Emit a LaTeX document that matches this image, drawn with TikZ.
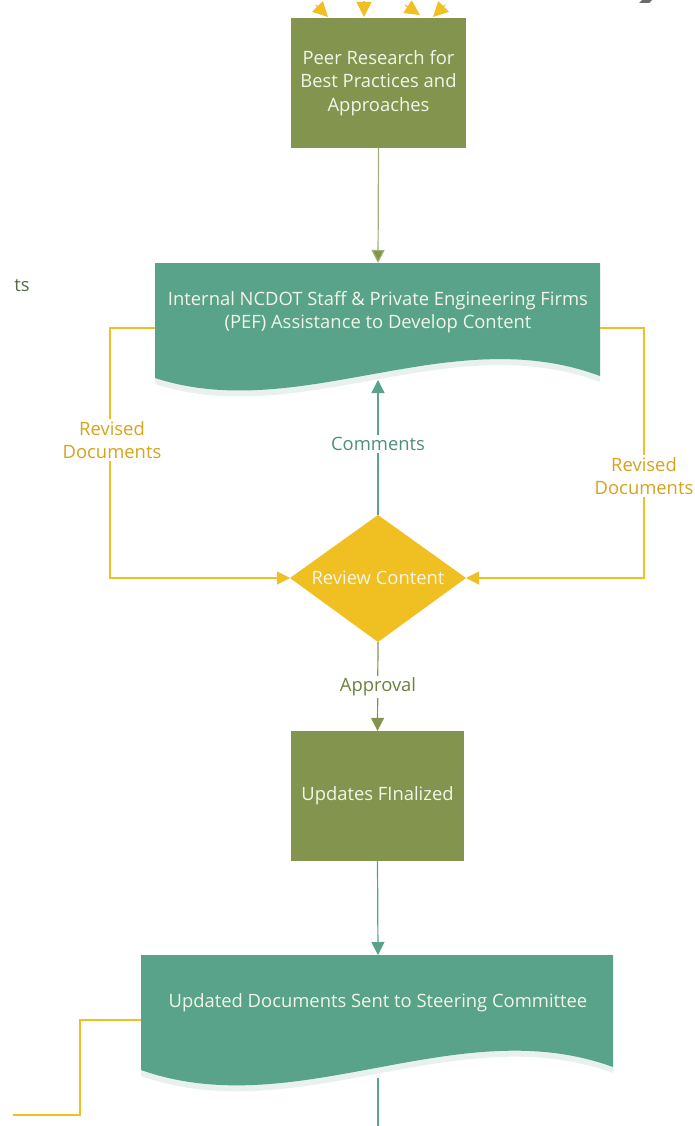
\documentclass[tikz,border=0pt]{standalone}
\usepackage{fontspec}
\setmainfont{Open Sans}
\usetikzlibrary{arrows.meta,shapes.geometric}
\definecolor{olivec}{HTML}{82944E}
\definecolor{tealc}{HTML}{58A38A}
\definecolor{yellowc}{HTML}{F0BF22}
\definecolor{boxtext}{HTML}{F2F6EA}
\definecolor{goldtext}{HTML}{D6A31C}
\definecolor{tealtext}{HTML}{4E8F7D}
\definecolor{olivetext}{HTML}{6E803E}
\definecolor{shadowc}{HTML}{E9F1ED}
\definecolor{tstext}{HTML}{5A6A40}
\newcommand{\dfont}{\fontsize{18.4}{23.5}\selectfont}
\tikzset{
  boxtxt/.style={text=boxtext, align=center, font=\dfont, inner sep=0pt},
  olivebox/.style={fill=olivec, draw=none, text=boxtext, align=center, font=\dfont, inner sep=0pt},
  lbl/.style={align=center, fill=white, inner sep=2pt, font=\dfont},
  arr/.style={-{Triangle[length=13pt,width=13pt]}, line width=1.2pt},
  yarr/.style={arr, draw=yellowc, -{Triangle[length=13pt,width=13pt,fill=yellowc]}},
  toparr/.style={line width=1.2pt, draw=yellowc, -{Triangle[length=15pt,width=15pt,fill=yellowc]}},
}
\begin{document}
\begin{tikzpicture}[x=1pt,y=-1pt]
\useasboundingbox (0,0) rectangle (694,1126);
\clip (0,0) rectangle (694,1126);

% fragment at top right
\fill[gray!85!black] (642,0) -- (652,0) -- (649,3) -- (639,3) -- cycle;

% Peer research box
\node[olivebox, minimum width=175pt, minimum height=130pt] (peer) at (378.5,83)
  {Peer Research for\\Best Practices and\\Approaches};

% incoming top arrows (only heads visible)
\coordinate (t1) at (316,5);
\coordinate (t2) at (364,1);
\coordinate (t3) at (405,5);
\coordinate (t4) at (445,5);
\coordinate (h1) at (328,17);
\coordinate (h2) at (364,17);
\coordinate (h3) at (420,15);
\coordinate (h4) at (433,17);
\draw[toparr] (t1) -- (h1);
\draw[toparr] (t2) -- (h2);
\draw[toparr] (t3) -- (h3);
\draw[toparr] (t4) -- (h4);

% Internal document shape
\fill[shadowc] (155,269) -- (600,269) -- (600,382) .. controls (450,326) and (300,431) .. (155,384) -- cycle;
\fill[tealc] (155,263) -- (600,263) -- (600,376) .. controls (450,320) and (300,425) .. (155,378) -- cycle;
\coordinate (intTop) at (378,263);
\coordinate (intBot) at (378,380);
\coordinate (intL) at (155,328);
\coordinate (intR) at (600,328);
\node[boxtxt] (internal) at (378,312)
  {Internal NCDOT Staff \& Private Engineering Firms\\(PEF) Assistance to Develop Content};

% ts fragment
\node[text=tstext, font=\dfont, inner sep=0pt] (ts) at (22,286) {ts};

% diamond
\coordinate (dL) at (290,578);
\coordinate (dR) at (466,578);
\coordinate (dT) at (378,515);
\coordinate (dB) at (378,642);
\fill[yellowc] (dL) -- (dT) -- (dR) -- (dB) -- cycle;
\node[boxtxt] (review) at (378,578) {Review Content};

% Updates box
\node[olivebox, minimum width=173pt, minimum height=130pt] (updates) at (377.5,796) {Updates FInalized};

% Sent document shape
\fill[shadowc] (141,961) -- (613,961) -- (613,1073) .. controls (457,1016) and (297,1131) .. (141,1076) -- cycle;
\fill[tealc] (141,955) -- (613,955) -- (613,1067) .. controls (457,1010) and (297,1125) .. (141,1070) -- cycle;
\coordinate (sentTop) at (378,955);
\coordinate (sentBot) at (378,1078);
\coordinate (sentL) at (141,1020);
\node[boxtxt] (sent) at (378,1003) {Updated Documents Sent to Steering Committee};

% connectors
\draw[arr, draw=olivec!75, -{Triangle[length=13pt,width=13pt,fill=olivec]}] (peer.south) -- (intTop);

\coordinate (lc1) at (110,328);
\coordinate (lc2) at (110,578);
\draw[yarr] (intL) -- (lc1) -- (lc2) -- (dL);
\node[lbl, text=goldtext] (revL) at (112,440) {Revised\\Documents};

\coordinate (rc1) at (644,328);
\coordinate (rc2) at (644,578);
\draw[yarr] (intR) -- (rc1) -- (rc2) -- (dR);
\node[lbl, text=goldtext] (revR) at (644,476) {Revised\\Documents};

\draw[arr, draw=tealc, -{Triangle[length=13pt,width=13pt,fill=tealc]}] (dT) -- (intBot);
\node[lbl, text=tealtext] (comments) at (378,444) {Comments};

\draw[arr, draw=olivec, -{Triangle[length=13pt,width=13pt,fill=olivec]}] (dB) -- (updates.north);
\node[lbl, text=olivetext] (approval) at (378,687) {Approval};

\draw[arr, draw=tealc, -{Triangle[length=13pt,width=13pt,fill=tealc]}] (updates.south) -- (sentTop);

\coordinate (sentEnd) at (378,1130);
\draw[line width=1.2pt, draw=tealc] (sentBot) -- (sentEnd);

\coordinate (sl1) at (80,1020);
\coordinate (sl2) at (80,1115);
\coordinate (sl3) at (13,1115);
\draw[line width=1.2pt, draw=yellowc] (sentL) -- (sl1) -- (sl2) -- (sl3);
\end{tikzpicture}
\end{document}
